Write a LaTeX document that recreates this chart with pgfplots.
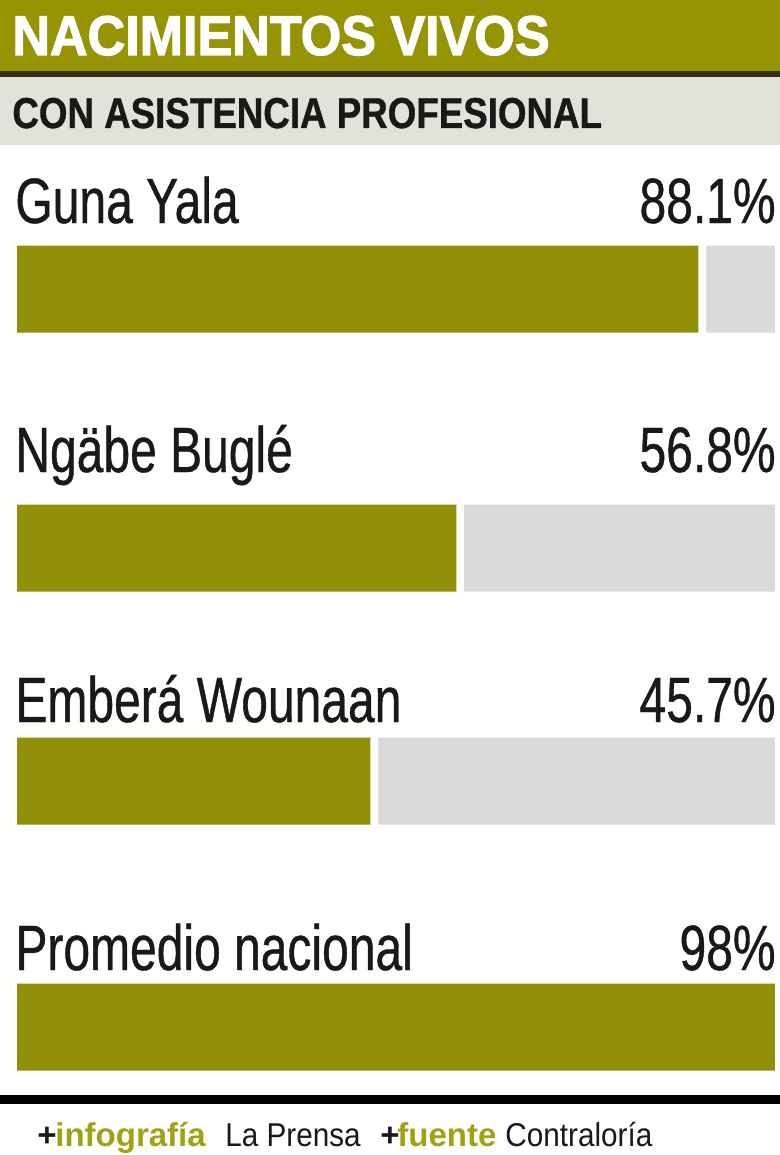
\documentclass[border=0pt]{standalone}
\usepackage{pgfplots}
\pgfplotsset{compat=1.18}
\usepackage{fontspec}
\setmainfont{Liberation Sans}
\newfontfamily\lblfont[FakeStretch=0.75,FakeBold=0.6]{Liberation Sans}
\newfontfamily\ttlfont[FakeStretch=0.93,FakeBold=2]{Liberation Sans Bold}
\newfontfamily\subfont[FakeStretch=0.85,FakeBold=0.8]{Liberation Sans Bold}
\newfontfamily\ftfont[FakeStretch=0.9]{Liberation Sans}
\newfontfamily\ftbold[FakeStretch=1.0]{Liberation Sans Bold}
\definecolor{barolive}{RGB}{145,144,8}
\definecolor{titleband}{RGB}{150,148,2}
\definecolor{darkrule}{RGB}{55,48,10}
\definecolor{subband}{RGB}{226,226,218}
\definecolor{track}{RGB}{218,218,221}
\definecolor{footolive}{RGB}{160,162,20}
\definecolor{txt}{RGB}{25,25,25}
\begin{document}
\begin{tikzpicture}
\useasboundingbox (0,0) rectangle (390pt,-577.5pt);
\fill[white] (0,0) rectangle (390pt,-577.5pt);
\begin{axis}[at={(0,0)}, anchor=north west, scale only axis,
  width=390pt, height=577.5pt,
  xmin=-2.2, xmax=98.65, ymin=0, ymax=1155, y dir=reverse,
  hide axis, xbar stacked, bar width=87, clip=false]
\addplot[fill=barolive, draw=none] coordinates {(88.1,289) (56.8,548) (45.7,781) (98,1027)};
\addplot[fill=white, draw=none] coordinates {(1,289) (1,548) (1,781) (0,1027)};
\addplot[fill=track, draw=none] coordinates {(8.9,289) (40.2,548) (51.3,781) (0,1027)};
\end{axis}
\begin{scope}[x=0.5pt,y=-0.5pt]
\fill[titleband] (0,0) rectangle (780,71);
\fill[darkrule] (0,71) rectangle (780,77);
\fill[subband] (0,77) rectangle (780,145);
\node[anchor=base west, inner sep=0, text=white, font=\ttlfont\fontsize{28}{28}\selectfont] at (12,55) {NACIMIENTOS VIVOS};
\node[anchor=base west, inner sep=0, text=txt, font=\subfont\fontsize{21.6}{22}\selectfont] at (12,128) {CON ASISTENCIA PROFESIONAL};
\foreach \lab/\val/\yb in {Guna Yala/88.1\%/223, Ngäbe Buglé/56.8\%/472, Emberá Wounaan/45.7\%/722, Promedio nacional/98\%/970}{
  \node[anchor=base west, inner sep=0, text=txt, font=\lblfont\fontsize{32}{32}\selectfont] at (15,\yb) {\lab};
  \node[anchor=base east, inner sep=0, text=txt, font=\lblfont\fontsize{32}{32}\selectfont] at (776,\yb) {\val};
}
\fill[black] (0,1095) rectangle (780,1104);
\node[anchor=base west, inner sep=0, text=txt, font=\ftbold\fontsize{16.5}{17}\selectfont] at (37,1146) {+};
\node[anchor=base west, inner sep=0, text=footolive, font=\ftbold\fontsize{16.5}{17}\selectfont] at (55,1146) {infografía};
\node[anchor=base west, inner sep=0, text=txt, font=\ftfont\fontsize{16.5}{17}\selectfont] at (225,1146) {La Prensa};
\node[anchor=base west, inner sep=0, text=txt, font=\ftbold\fontsize{16.5}{17}\selectfont] at (380,1146) {+};
\node[anchor=base west, inner sep=0, text=footolive, font=\ftbold\fontsize{16.5}{17}\selectfont] at (397,1146) {fuente};
\node[anchor=base west, inner sep=0, text=txt, font=\ftfont\fontsize{16.5}{17}\selectfont] at (505,1146) {Contraloría};
\end{scope}
\end{tikzpicture}
\end{document}
